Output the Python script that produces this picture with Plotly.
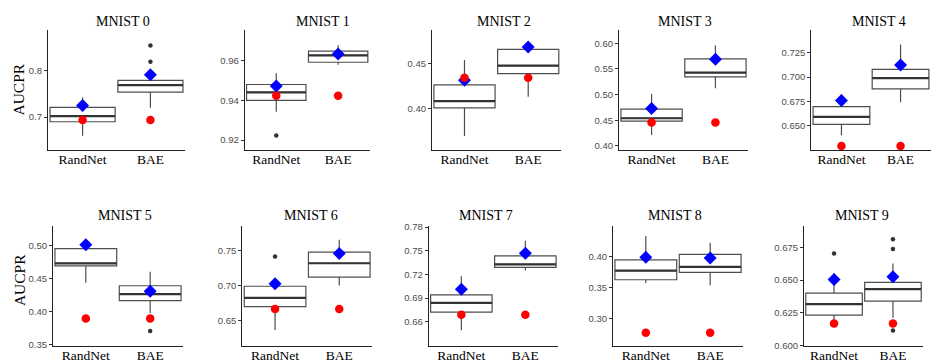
import plotly.graph_objects as go
from plotly.subplots import make_subplots

W, H = 942, 362

titles = ["MNIST 0", "MNIST 1", "MNIST 2", "MNIST 3", "MNIST 4",
          "MNIST 5", "MNIST 6", "MNIST 7", "MNIST 8", "MNIST 9"]
methods = ["RandNet", "BAE"]

# box statistics per panel: [RandNet, BAE]
lower = [[0.660, 0.720], [0.9343, 0.9579], [0.3698, 0.4134], [0.4212, 0.5121], [0.6403, 0.6743],
         [0.4437, 0.3980], [0.6361, 0.7000], [0.6494, 0.7249], [0.3573, 0.3537], [0.6175, 0.6213]]
q1 = [[0.690, 0.754], [0.9400, 0.9592], [0.4011, 0.4392], [0.4483, 0.5343], [0.6516, 0.6880],
      [0.4691, 0.4166], [0.6696, 0.7118], [0.6721, 0.7289], [0.3627, 0.3747], [0.6232, 0.6339]]
median = [[0.702, 0.769], [0.9440, 0.9626], [0.4086, 0.4482], [0.4540, 0.5429], [0.6593, 0.6990],
          [0.4730, 0.4265], [0.6820, 0.7318], [0.6839, 0.7326], [0.3774, 0.3837], [0.6317, 0.6431]]
q3 = [[0.721, 0.779], [0.9480, 0.9648], [0.4266, 0.4663], [0.4717, 0.5695], [0.6697, 0.7080],
      [0.4951, 0.4392], [0.6988, 0.7477], [0.6941, 0.7435], [0.3948, 0.4037], [0.6401, 0.6483]]
upper = [[0.742, 0.792], [0.9537, 0.9677], [0.4543, 0.4690], [0.5013, 0.5954], [0.6823, 0.7334],
         [0.5010, 0.4603], [0.7020, 0.7655], [0.7176, 0.7625], [0.4337, 0.4221], [0.6552, 0.6626]]

out_randnet = [[], [0.9223], [], [], [], [], [0.7416], [], [], [0.6703]]
out_bae = [[0.819, 0.854], [], [], [], [], [0.371], [], [], [], [0.6812, 0.6738, 0.6116]]

blue_pts = [[0.725, 0.791], [0.9472, 0.9633], [0.4319, 0.4690], [0.4730, 0.5689], [0.6760, 0.7124],
            [0.5010, 0.4309], [0.7023, 0.7459], [0.7011, 0.7467], [0.3990, 0.3979], [0.6505, 0.6525]]
red_pts = [[0.694, 0.694], [0.9424, 0.9424], [0.4345, 0.4345], [0.4458, 0.4458], [0.6293, 0.6293],
           [0.3897, 0.3897], [0.6662, 0.6662], [0.6688, 0.6688], [0.2765, 0.2765], [0.6168, 0.6168]]

y_ranges = [[0.629, 0.888], [0.915, 0.9755], [0.354, 0.488], [0.392, 0.626], [0.6252, 0.7485],
            [0.3485, 0.529], [0.6133, 0.7849], [0.6295, 0.781], [0.2554, 0.4495], [0.5998, 0.6911]]
y_ticks = [[0.7, 0.8], [0.92, 0.94, 0.96], [0.40, 0.45], [0.40, 0.45, 0.50, 0.55, 0.60],
           [0.650, 0.675, 0.700, 0.725], [0.35, 0.40, 0.45, 0.50], [0.65, 0.70, 0.75],
           [0.66, 0.69, 0.72, 0.75, 0.78], [0.30, 0.35, 0.40], [0.600, 0.625, 0.650, 0.675]]
tick_fmt = [".1f", ".2f", ".2f", ".2f", ".3f", ".2f", ".2f", ".2f", ".2f", ".3f"]

# panel placement in pixels (left, right) and rows (top, bottom)
px_x = [(40, 177), (236.7, 361.7), (424, 552.7), (611, 740), (803.3, 922.7),
        (45, 175), (234.3, 364), (420.7, 550), (605, 735), (796, 915)]
px_rows = [(17.3, 141), (219.3, 342.3)]
title_x = [115, 315, 496, 676.7, 871, 116.7, 303.3, 478.3, 667.3, 854]
title_y = [9, 208.3]

BOX_W = 0.96
xpos = [1, 2]

fig = make_subplots(rows=2, cols=5)

for i in range(10):
    r, c = i // 5 + 1, i % 5 + 1
    fig.add_trace(go.Box(
        x=xpos, q1=q1[i], median=median[i], q3=q3[i],
        lowerfence=lower[i], upperfence=upper[i],
        width=BOX_W, whiskerwidth=0, boxpoints=False,
        fillcolor="white", line=dict(color="#4d4d4d", width=1.2),
        showlegend=False, hoverinfo="skip",
    ), row=r, col=c)

    # thicker median bar, ggplot style
    mx, my = [], []
    for k in range(2):
        mx += [xpos[k] - BOX_W / 2, xpos[k] + BOX_W / 2, None]
        my += [median[i][k], median[i][k], None]
    fig.add_trace(go.Scatter(x=mx, y=my, mode="lines",
                             line=dict(color="#333333", width=2.2),
                             showlegend=False, hoverinfo="skip"), row=r, col=c)

    ox = [xpos[0]] * len(out_randnet[i]) + [xpos[1]] * len(out_bae[i])
    oy = out_randnet[i] + out_bae[i]
    if oy:
        fig.add_trace(go.Scatter(x=ox, y=oy, mode="markers",
                                 marker=dict(color="#333333", size=4.5),
                                 showlegend=False, hoverinfo="skip"), row=r, col=c)

    fig.add_trace(go.Scatter(x=xpos, y=blue_pts[i], mode="markers",
                             marker=dict(color="#0000ff", size=10, symbol="diamond"),
                             showlegend=False, hoverinfo="skip"), row=r, col=c)
    fig.add_trace(go.Scatter(x=xpos, y=red_pts[i], mode="markers",
                             marker=dict(color="#ff0000", size=8.5, symbol="circle"),
                             showlegend=False, hoverinfo="skip"), row=r, col=c)

    x0, x1 = px_x[i]
    top, bot = px_rows[r - 1]
    fig.update_xaxes(
        domain=[x0 / W, x1 / W], range=[0.49, 2.51],
        tickvals=xpos, ticktext=methods,
        showline=True, linecolor="#222222", linewidth=1.1,
        ticks="", ticklabelstandoff=-3,
        showgrid=False, zeroline=False, fixedrange=True,
        tickfont=dict(family="Liberation Serif", size=13.5, color="black"),
        row=r, col=c,
    )
    fig.update_yaxes(
        domain=[1 - bot / H, 1 - top / H], range=y_ranges[i],
        tickvals=y_ticks[i], tickformat=tick_fmt[i],
        showline=True, linecolor="#222222", linewidth=1.1,
        ticks="outside", ticklen=3, tickcolor="#333333",
        showgrid=False, zeroline=False, fixedrange=True,
        tickfont=dict(family="Liberation Sans", size=9.5, color="#4d4d4d"),
        row=r, col=c,
    )

    fig.add_annotation(
        text=titles[i], x=title_x[i] / W, y=1 - title_y[r - 1] / H,
        xref="paper", yref="paper", xanchor="center", yanchor="middle",
        showarrow=False, font=dict(family="Liberation Serif", size=14, color="black"),
    )

for yc in [78.7, 274.7]:
    fig.add_annotation(
        text="AUCPR", x=11 / W, y=1 - yc / H, xref="paper", yref="paper",
        xanchor="center", yanchor="middle", textangle=-90, showarrow=False,
        font=dict(family="Liberation Serif", size=15.5, color="black"),
    )

fig.update_layout(
    width=W, height=H,
    margin=dict(l=0, r=0, t=0, b=0),
    paper_bgcolor="white", plot_bgcolor="white",
    boxmode="overlay",
)

fig.write_html("out.html")
